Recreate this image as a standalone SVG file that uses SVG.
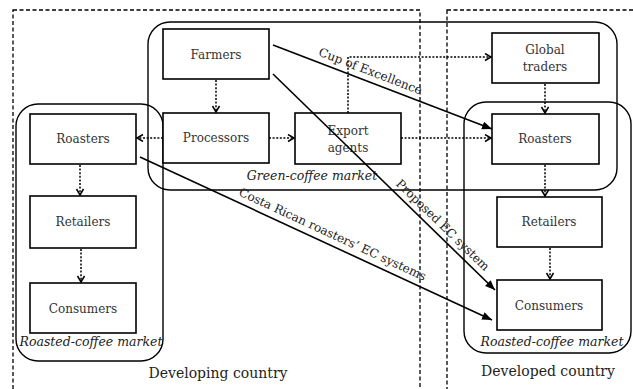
<svg xmlns="http://www.w3.org/2000/svg" width="633" height="389" viewBox="0 0 633 389">
<style>
.country{fill:none;stroke:#000;stroke-width:1.3;stroke-dasharray:4 2.5}
.market{fill:none;stroke:#000;stroke-width:1.4}
.node rect{fill:#fff;stroke:#000;stroke-width:1.6}
.node text{font-family:"DejaVu Serif",serif;font-size:12px;fill:#333;text-anchor:middle}
.lbl{font-family:"DejaVu Serif",serif;font-size:12.5px;font-style:italic;fill:#222;text-anchor:middle}
.clbl{font-family:"DejaVu Serif",serif;font-size:14px;fill:#222;text-anchor:middle}
.elbl{font-family:"DejaVu Serif",serif;font-size:12px;fill:#222;text-anchor:middle}
.dot{fill:none;stroke:#000;stroke-width:1.5;stroke-dasharray:2 1.6;marker-end:url(#open)}
.sol{fill:none;stroke:#000;stroke-width:1.6;marker-end:url(#fill)}
</style>
<defs>
<marker id="open" markerUnits="userSpaceOnUse" markerWidth="10" markerHeight="10" refX="7" refY="4" orient="auto">
<path d="M1,0.5 L7,4 L1,7.5" fill="none" stroke="#000" stroke-width="1.5"/>
</marker>
<marker id="fill" markerUnits="userSpaceOnUse" markerWidth="12" markerHeight="10" refX="10" refY="4" orient="auto">
<path d="M0,0 L10,4 L0,8 z" fill="#000"/>
</marker>
</defs>
<rect width="633" height="389" fill="#fff"/>
<g id="regions">
<rect class="country" x="13" y="10" width="407" height="400"/>
<rect class="country" x="447" y="10" width="200" height="400"/>
<rect class="market" x="148" y="22" width="469" height="168" rx="22"/>
<rect class="market" x="16" y="104" width="147" height="257" rx="22"/>
<rect class="market" x="464" y="102" width="167" height="251" rx="22"/>
<text class="lbl" x="312" y="180">Green-coffee market</text>
<text class="lbl" x="91" y="346">Roasted-coffee market</text>
<text class="lbl" x="552" y="346">Roasted-coffee market</text>
<text class="clbl" x="218" y="378">Developing country</text>
<text class="clbl" x="548" y="376">Developed country</text>
</g>
<g id="farmers" class="node"><rect x="163" y="29" width="106" height="50"/><text x="216" y="59">Farmers</text></g>
<g id="processors" class="node"><rect x="163" y="113" width="106" height="50"/><text x="216" y="142">Processors</text></g>
<g id="export" class="node"><rect x="295" y="113" width="106" height="51"/><text x="348" y="135">Export</text><text x="348" y="152">agents</text></g>
<g id="roasters-dev" class="node"><rect x="30" y="114" width="106" height="50"/><text x="83" y="143">Roasters</text></g>
<g id="retailers-dev" class="node"><rect x="30" y="196" width="106" height="52"/><text x="83" y="226">Retailers</text></g>
<g id="consumers-dev" class="node"><rect x="30" y="283" width="106" height="50"/><text x="83" y="313">Consumers</text></g>
<g id="global" class="node"><rect x="492" y="33" width="107" height="50"/><text x="545" y="54">Global</text><text x="545" y="71">traders</text></g>
<g id="roasters-ed" class="node"><rect x="492" y="114" width="107" height="50"/><text x="545" y="143">Roasters</text></g>
<g id="retailers-ed" class="node"><rect x="497" y="197" width="105" height="50"/><text x="549" y="226">Retailers</text></g>
<g id="consumers-ed" class="node"><rect x="497" y="280" width="105" height="50"/><text x="549" y="310">Consumers</text></g>
<g id="connectors">
<path class="dot" d="M216,80 V112"/>
<path class="dot" d="M163,138 H137"/>
<path class="dot" d="M269,138 H294"/>
<path class="dot" d="M80,165 V195"/>
<path class="dot" d="M81,249 V282"/>
<path class="dot" d="M348,113 V57 H491"/>
<path class="dot" d="M401,138 H491"/>
<path class="dot" d="M545,84 V113"/>
<path class="dot" d="M545,165 V196"/>
<path class="dot" d="M550,248 V279"/>
<path class="sol" d="M273,45 L492,129"/>
<path class="sol" d="M273,74 L495,290"/>
<path class="sol" d="M140,157 L492,320"/>
<text class="elbl" transform="translate(369,75) rotate(21)">Cup of Excellence</text>
<text class="elbl" transform="translate(440,228) rotate(44.2)">Proposed EC system</text>
<text class="elbl" transform="translate(331,238) rotate(24.8)">Costa Rican roasters’ EC systems</text>
</g>
</svg>
